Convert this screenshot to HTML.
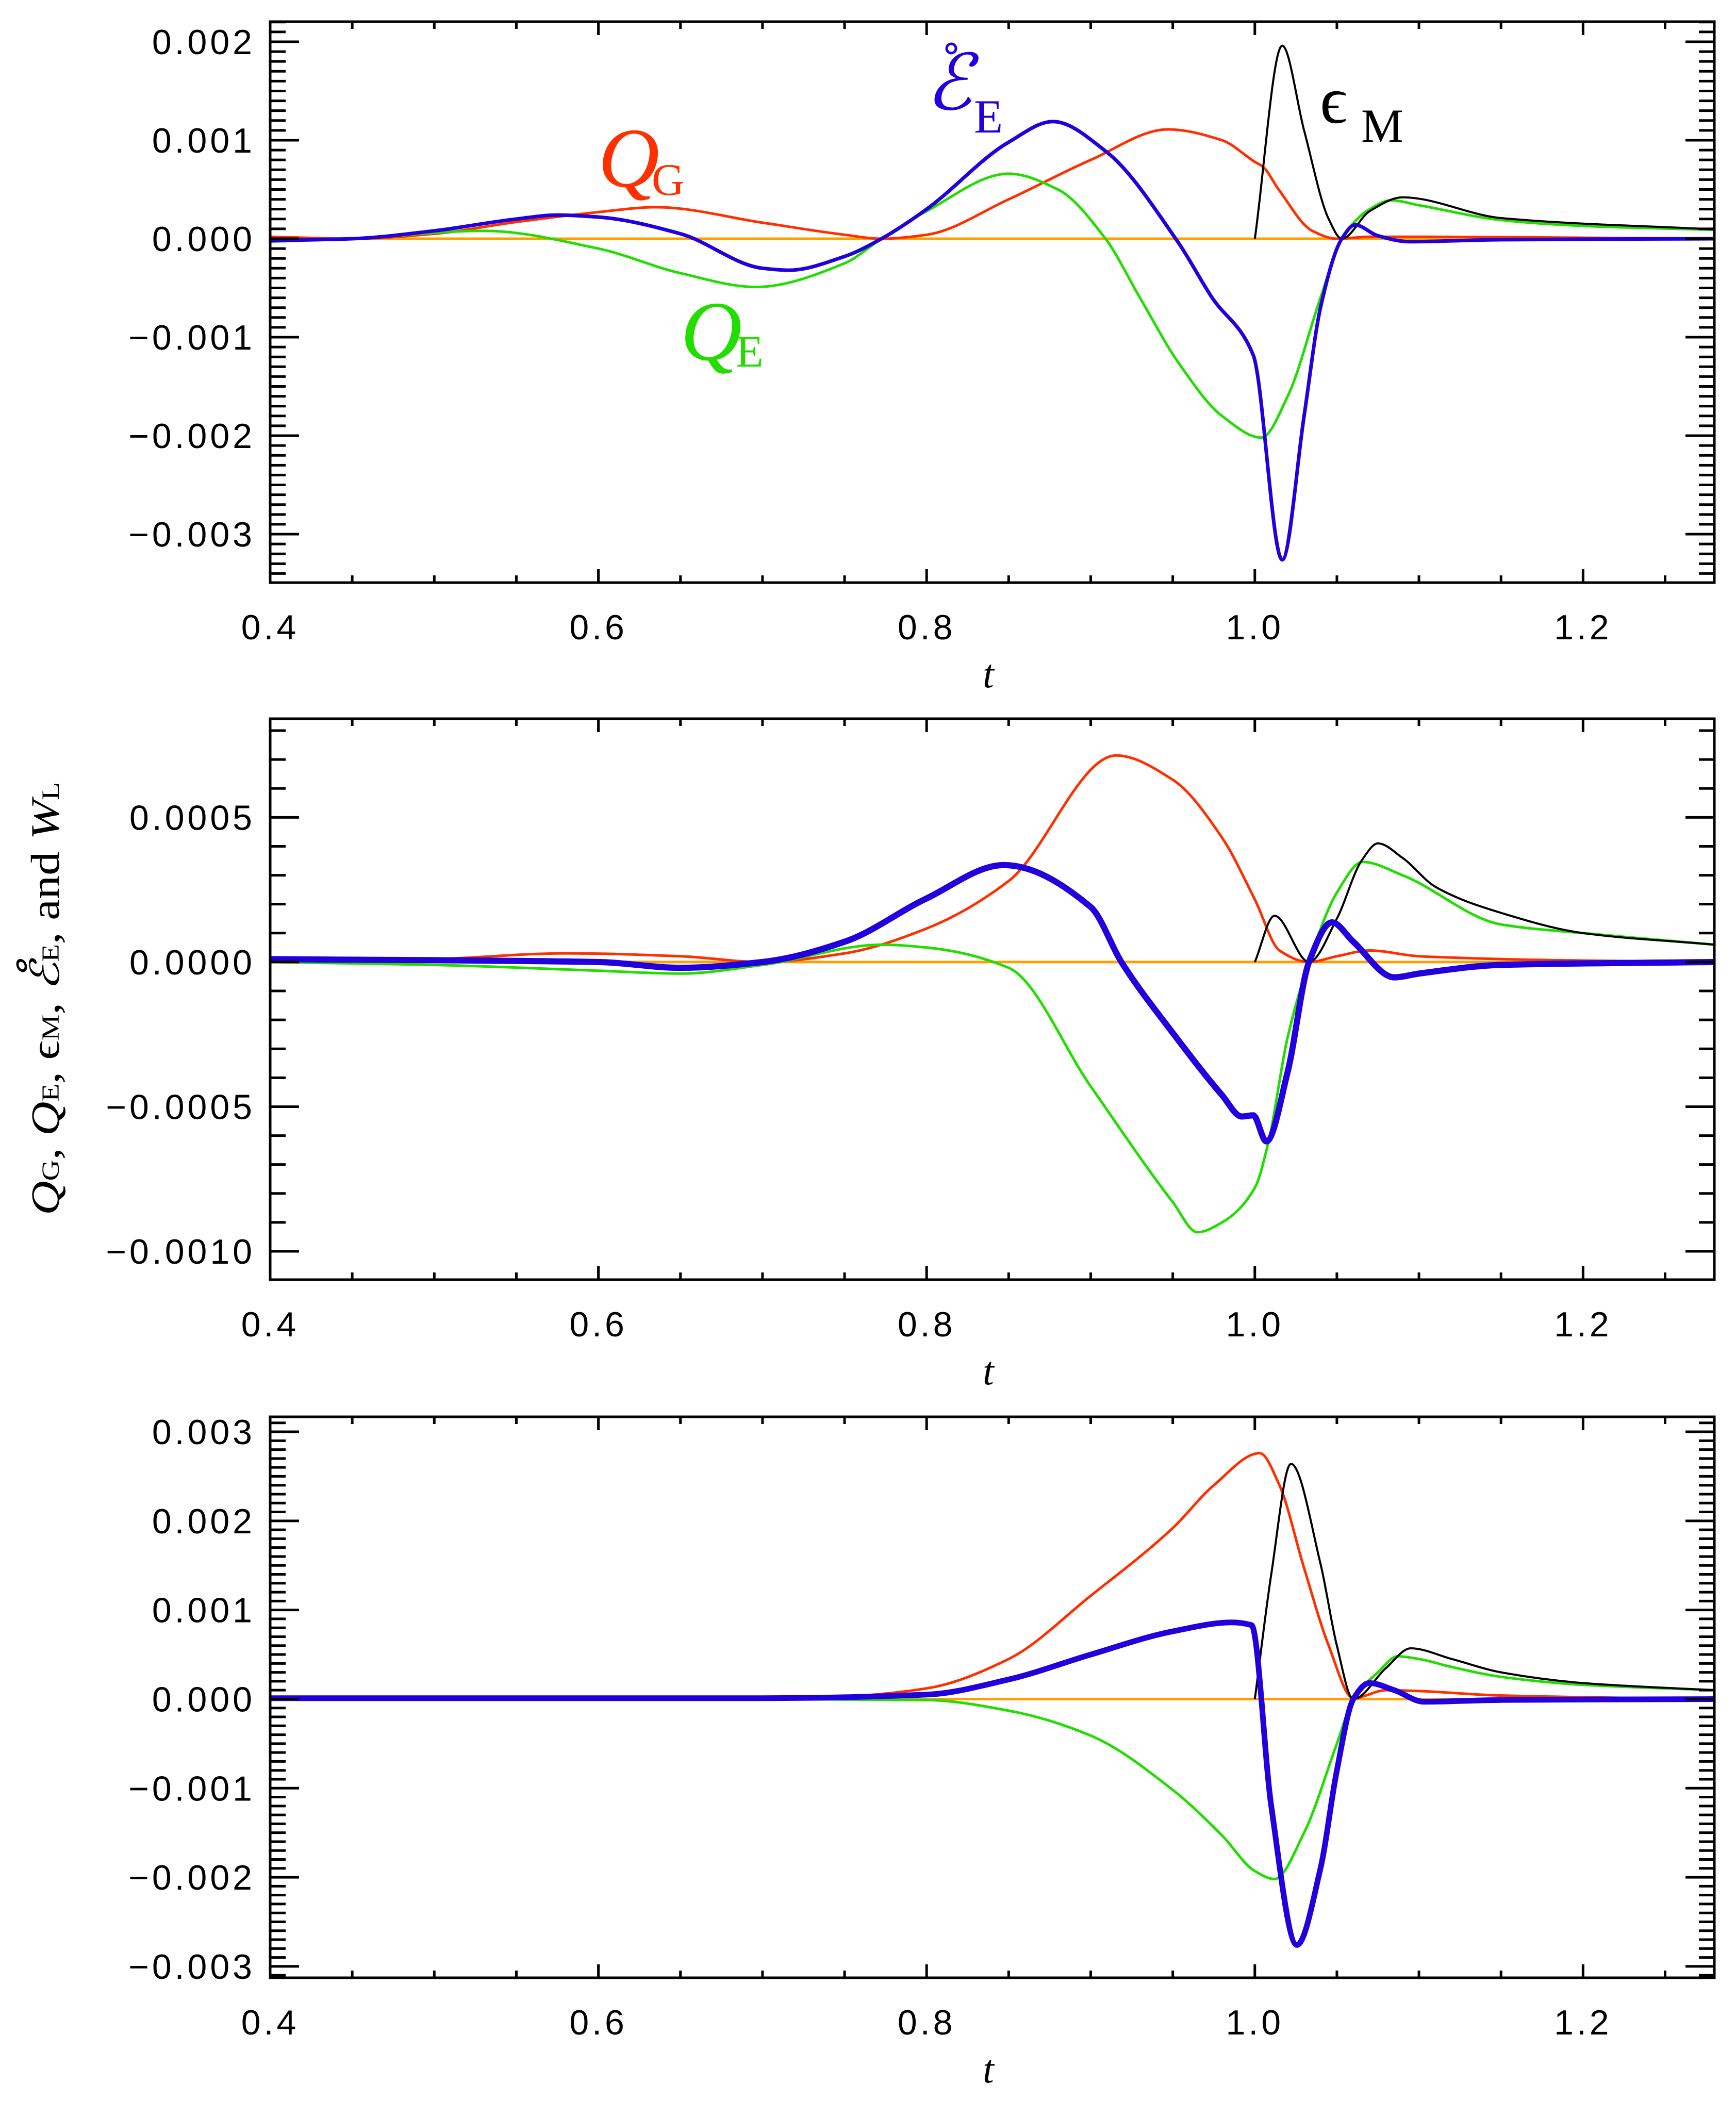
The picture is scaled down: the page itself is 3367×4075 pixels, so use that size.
<!DOCTYPE html>
<html><head><meta charset="utf-8"><style>
html,body{margin:0;padding:0;background:#fff;}
svg{display:block;}
</style></head>
<body>
<svg id="chart" xmlns="http://www.w3.org/2000/svg" width="3367" height="4075" viewBox="0 0 3367 4075" font-family="Liberation Sans, sans-serif">
<rect x="0" y="0" width="3367" height="4075" fill="#fff"/>
<g id="panels"></g>
<g>
  <text x="1160" y="362" font-size="165" font-style="italic" font-family="Liberation Serif, serif" fill="#ff3000">Q</text>
  <text x="1264" y="378" font-size="88" font-family="Liberation Serif, serif" fill="#ff3000">G</text>
  <text x="1320" y="698" font-size="165" font-style="italic" font-family="Liberation Serif, serif" fill="#22dd00">Q</text>
  <text x="1427" y="711" font-size="88" font-family="Liberation Serif, serif" fill="#22dd00">E</text>
  <text x="1795" y="212" font-size="150" font-style="italic" font-family="DejaVu Serif, serif" fill="#2200dd">ℰ</text>
  <circle cx="1845" cy="94" r="9" fill="none" stroke="#2200dd" stroke-width="5"/>
  <text x="1889" y="257" font-size="92" font-family="Liberation Serif, serif" fill="#2200dd">E</text>
  <text x="2560" y="238" font-size="130" font-family="Liberation Serif, serif" fill="#000">ϵ</text>
  <text x="2640" y="275" font-size="92" font-family="Liberation Serif, serif" fill="#000">M</text>
</g>
<text transform="translate(114,1937) rotate(-90)" text-anchor="middle" font-size="78" font-family="Liberation Serif, DejaVu Serif, serif" textLength="840" lengthAdjust="spacingAndGlyphs"><tspan font-style="italic">Q</tspan><tspan font-size="48">G</tspan>,  <tspan font-style="italic">Q</tspan><tspan font-size="48">E</tspan>,  ϵ<tspan font-size="48">M</tspan>,  <tspan font-style="italic">ℰ̊</tspan><tspan font-size="48">E</tspan>,  and  <tspan font-style="italic">W</tspan><tspan font-size="48">L</tspan></text>
</svg>
<script>
// ---------- data ----------
// Panel 1
const p1_QG_t=[0.4,0.45,0.5,0.55,0.6,0.635,0.701,0.75,0.7725,0.8,0.85,0.9,0.947,0.98,1.0,1.005,1.0145,1.035,1.05,1.07,1.1,1.2,1.28];
const p1_QG_v=[0.00002,0,0.00005,0.00017,0.00027,0.00032,0.00016,0.00004,0,0.00004,0.0004,0.0008,0.00111,0.001,0.00078,0.00073,0.0005,0.00008,0,0.00002,0.00002,0.00001,0];
const p1_QE_t=[0.4,0.45,0.53,0.6,0.65,0.696,0.75,0.7725,0.8,0.85,0.88,0.909,0.93,0.9535,0.98,1.004,1.02,1.04,1.053,1.07,1.083,1.1,1.15,1.2,1.28];
const p1_QE_v=[-0.00003,0,0.00008,-0.0001,-0.00035,-0.00049,-0.00025,0,0.00028,0.00066,0.0005,0,-0.0006,-0.00126,-0.0018,-0.00202,-0.0016,-0.0006,0,0.0003,0.00039,0.00034,0.00019,0.00013,0.00009];
const p1_EE_t=[0.4,0.45,0.5,0.55,0.575,0.6,0.65,0.7,0.716,0.75,0.7725,0.8,0.85,0.877,0.909,0.953,0.974,0.999,1.0167,1.03,1.04,1.053,1.061,1.075,1.094,1.15,1.28];
const p1_EE_v=[-0.00002,0,0.00008,0.0002,0.00024,0.00022,0.00005,-0.0003,-0.00032,-0.00018,0,0.0003,0.00098,0.00119,0.00089,-0.00003,-0.0006,-0.00118,-0.00326,-0.0018,-0.0007,0,0.00014,0.00003,-0.00003,-0.00001,0];
const p1_EM_t=[1.0,1.0167,1.03,1.045,1.053,1.07,1.09,1.15,1.28];
const p1_EM_v=[0,0.00196,0.0011,0.0002,0,0.00028,0.00042,0.00021,0.000094];
// Panel 2
const p2_QG_t=[0.4,0.5,0.58,0.65,0.7,0.75,0.8,0.85,0.9155,0.95,0.98,1.0,1.015,1.033,1.05,1.07,1.1,1.2,1.28];
const p2_QG_v=[0,0.00001,0.00003,0.00002,0,0.00003,0.000116,0.00028,0.000714,0.00063,0.00043,0.000216,0.00004,0,0.00002,0.00004,0.00002,0.000005,0];
const p2_QE_t=[0.4,0.5,0.6,0.65,0.7,0.773,0.8,0.85,0.9,0.95,0.965,0.98,1.0,1.008,1.02,1.033,1.05,1.0657,1.09,1.15,1.2,1.28];
const p2_QE_v=[0,-0.00001,-0.00003,-0.00004,-0.00001,0.00006,0.00005,-0.00002,-0.00043,-0.00083,-0.000934,-0.0009,-0.00078,-0.00063,-0.00026,0,0.00024,0.000346,0.0003,0.00013,0.0001,0.00006];
const p2_EE_t=[0.4,0.6,0.65,0.7,0.75,0.8,0.847,0.9,0.9187,0.95,0.98,0.992,0.999,1.007,1.02,1.033,1.047,1.06,1.085,1.1,1.15,1.28];
const p2_EE_v=[0.00001,0,-0.00002,0,0.00007,0.00022,0.000335,0.00019,0,-0.000245,-0.00046,-0.000534,-0.00053,-0.00062,-0.00038,0,0.000137,0.00007,-0.000053,-0.00004,-0.00001,0];
const p2_EM_t=[1.0,1.012,1.033,1.05,1.065,1.075,1.09,1.11,1.15,1.2,1.28];
const p2_EM_v=[0,0.00016,0,0.00015,0.00035,0.00041,0.00036,0.00026,0.00017,0.0001,0.00006];
// Panel 3
const p3_QG_t=[0.4,0.6,0.7,0.75,0.8,0.85,0.9,0.95,0.975,1.003,1.015,1.03,1.045,1.06,1.08,1.1,1.15,1.28];
const p3_QG_v=[0,0,0.00001,0.00003,0.00012,0.00045,0.00116,0.00192,0.0024,0.00276,0.0024,0.00147,0.0006,0.00001,0.0001,0.00009,0.00004,0];
const p3_QE_t=[0.4,0.7,0.8,0.85,0.9,0.95,0.98,1.0,1.012,1.03,1.05,1.06,1.075,1.087,1.1,1.12,1.15,1.2,1.28];
const p3_QE_v=[0,0,-0.00001,-0.00013,-0.00041,-0.00102,-0.00153,-0.00193,-0.00202,-0.0015,-0.0005,0,0.0003,0.00048,0.00045,0.00036,0.00025,0.00016,0.0001];
const p3_EE_t=[0.4,0.7,0.8,0.85,0.9,0.95,0.986,0.998,1.01,1.0256,1.04,1.05,1.06,1.0697,1.085,1.103,1.15,1.28];
const p3_EE_v=[0.00001,0.00001,0.00005,0.00022,0.0005,0.00076,0.00086,0.00083,-0.0012,-0.00276,-0.0019,-0.0008,0,0.00018,0.0001,-0.00003,-0.00001,0];
const p3_EM_t=[1.0,1.01,1.022,1.04,1.05,1.06,1.08,1.095,1.12,1.15,1.2,1.28];
const p3_EM_v=[0,0.0014,0.00264,0.00152,0.0006,0,0.00035,0.00057,0.00045,0.0003,0.00018,0.0001];
// tick labels
const xTickLabels=["0.4","0.6","0.8","1.0","1.2"];
const xTickValues=[0.4,0.6,0.8,1.0,1.2];
const p1_yTicks=[0.002,0.001,0,-0.001,-0.002,-0.003];
const p1_yLabels=["0.002","0.001","0.000","\u22120.001","\u22120.002","\u22120.003"];
const p2_yTicks=[0.0005,0,-0.0005,-0.001];
const p2_yLabels=["0.0005","0.0000","\u22120.0005","\u22120.0010"];
const p3_yTicks=[0.003,0.002,0.001,0,-0.001,-0.002,-0.003];
const p3_yLabels=["0.003","0.002","0.001","0.000","\u22120.001","\u22120.002","\u22120.003"];

// ---------- layout ----------
const NS="http://www.w3.org/2000/svg";
const L=524,R=3325,X0=0.4,X1=1.28;
const panels=[
 {name:"panel-top",top:42,bot:1130,ymin:-0.003492,ymax:0.002204,minor:0.0001,ticks:p1_yTicks,labels:p1_yLabels,
  series:[["qg",p1_QG_t,p1_QG_v,"#ff3000",5],["qe",p1_QE_t,p1_QE_v,"#22dd00",5],["em",p1_EM_t,p1_EM_v,"#000",4],["ee",p1_EE_t,p1_EE_v,"#2200dd",7]]},
 {name:"panel-middle",top:1394,bot:2482,ymin:-0.001098,ymax:0.000841,minor:0.0001,ticks:p2_yTicks,labels:p2_yLabels,
  series:[["qg",p2_QG_t,p2_QG_v,"#ff3000",5],["qe",p2_QE_t,p2_QE_v,"#22dd00",5],["em",p2_EM_t,p2_EM_v,"#000",4],["ee",p2_EE_t,p2_EE_v,"#2200dd",12]]},
 {name:"panel-bottom",top:2748,bot:3836,ymin:-0.003128,ymax:0.003168,minor:0.0001,ticks:p3_yTicks,labels:p3_yLabels,
  series:[["qg",p3_QG_t,p3_QG_v,"#ff3000",5],["qe",p3_QE_t,p3_QE_v,"#22dd00",5],["em",p3_EM_t,p3_EM_v,"#000",4],["ee",p3_EE_t,p3_EE_v,"#2200dd",11]]}
];
function xs(t){return L+(t-X0)/(X1-X0)*(R-L);}
function mk(tag,attrs,parent){const e=document.createElementNS(NS,tag);for(const k in attrs)e.setAttribute(k,attrs[k]);parent.appendChild(e);return e;}
function pathFrom(ts,vs,ys){
  const X=ts.map(xs),Y=vs.map(ys),n=X.length;
  const dx=[],s=[];
  for(let i=0;i<n-1;i++){dx.push(X[i+1]-X[i]);s.push((Y[i+1]-Y[i])/dx[i]);}
  const m=new Array(n);
  m[0]=s[0];m[n-1]=s[n-2];
  for(let i=1;i<n-1;i++){
    if(s[i-1]*s[i]<=0)m[i]=0;
    else{const w1=2*dx[i]+dx[i-1],w2=dx[i]+2*dx[i-1];m[i]=(w1+w2)/(w1/s[i-1]+w2/s[i]);}
  }
  let d="M"+X[0].toFixed(1)+","+Y[0].toFixed(1);
  for(let i=0;i<n-1;i++){
    const h=dx[i]/3;
    d+=" C"+(X[i]+h).toFixed(1)+","+(Y[i]+m[i]*h).toFixed(1)+" "+(X[i+1]-h).toFixed(1)+","+(Y[i+1]-m[i+1]*h).toFixed(1)+" "+X[i+1].toFixed(1)+","+Y[i+1].toFixed(1);
  }
  return d;
}
const root=document.getElementById("panels");
panels.forEach(p=>{
  const ys=v=>p.bot-(v-p.ymin)/(p.ymax-p.ymin)*(p.bot-p.top);
  const g=mk("g",{},root);
  
  
  const clip=mk("clipPath",{id:"clip-"+p.name},g);
  mk("rect",{x:L,y:p.top,width:R-L,height:p.bot-p.top},clip);
  const z=mk("line",{x1:L,x2:R,y1:ys(0),y2:ys(0),stroke:"#ffa000","stroke-width":5},g);
  
  
  const sg=mk("g",{"clip-path":"url(#clip-"+p.name+")"},g);
  p.series.forEach(s=>{
    const path=mk("path",{d:pathFrom(s[1],s[2],ys),fill:"none",stroke:s[3],"stroke-width":s[4],"stroke-linejoin":"round"},sg);
    
    
  });
  const fr=mk("rect",{x:L,y:p.top,width:R-L,height:p.bot-p.top,fill:"none",stroke:"#000","stroke-width":5},g);
  
  
  let d="";
  for(let k=0;k<=17;k++){const t=0.4+k*0.05;if(t>X1+1e-9)break;const x=xs(t);const len=(k%4===0)?26:14;
    d+=`M${x},${p.bot}v${-len}M${x},${p.top}v${len}`;}
  const n0=Math.ceil(p.ymin/p.minor-1e-6),n1=Math.floor(p.ymax/p.minor+1e-6);
  const majorStep=p.ticks[0]-p.ticks[1];
  for(let n=n0;n<=n1;n++){const v=n*p.minor;const y=ys(v);
    const isMaj=Math.abs(v/majorStep-Math.round(v/majorStep))<1e-6;const len=isMaj?56:30;
    d+=`M${L},${y}h${len}M${R},${y}h${-len}`;}
  const tk=mk("path",{d:d,stroke:"#000","stroke-width":5,fill:"none"},g);
  
  
  p.ticks.forEach((v,i)=>{
    const tx=mk("text",{x:495,y:ys(v)+24,"text-anchor":"end","font-size":68,"letter-spacing":6,"font-family":"Liberation Sans, sans-serif"},g);
    
    
    tx.textContent=p.labels[i];
  });
  xTickValues.forEach((v,i)=>{
    const tx=mk("text",{x:xs(v),y:p.bot+110,"text-anchor":"middle","font-size":68,"letter-spacing":6,"font-family":"Liberation Sans, sans-serif"},g);
    
    
    tx.textContent=xTickLabels[i];
  });
  const xt=mk("text",{x:1917,y:p.bot+203,"text-anchor":"middle","font-size":78,"font-style":"italic","font-family":"Liberation Serif, serif"},g);
  
  
  xt.textContent="t";
});
</script>
</body></html>
